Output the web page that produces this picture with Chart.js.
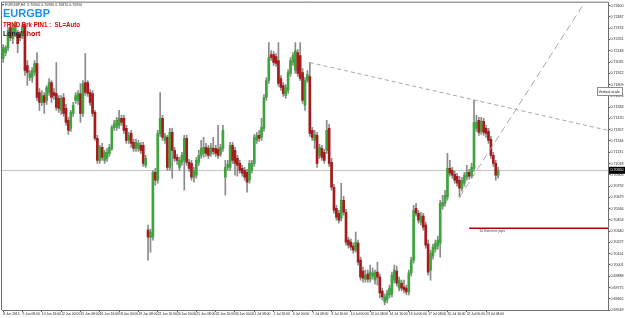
<!DOCTYPE html>
<html>
<head>
<meta charset="utf-8">
<script src="https://cdn.jsdelivr.net/npm/chart.js@4.4.0/dist/chart.umd.min.js"></script>
<style>
  html, body { margin: 0; padding: 0; background: #fff; }
  #chart { display: block; }
</style>
</head>
<body>
<canvas id="chart" width="625" height="318"></canvas>
<script>
const symbol = 'EURGBP'
const period = 'H4'
const strategyText = 'TRND Brk PIN1 :  SL=Auto'

// H4 candles
const openPrices = [
  0.7207, 0.7213, 0.7218, 0.7238, 0.7227, 0.7232, 0.7232, 0.7231, 0.7230, 0.7240,
  0.7200, 0.7188, 0.7188, 0.7193, 0.7202, 0.7173, 0.7163, 0.7170, 0.7165, 0.7173,
  0.7183, 0.7173, 0.7172, 0.7167, 0.7155, 0.7168, 0.7157, 0.7145, 0.7137, 0.7152,
  0.7165, 0.7165, 0.7172, 0.7152, 0.7183, 0.7183, 0.7173, 0.7172, 0.7153, 0.7127,
  0.7105, 0.7118, 0.7105, 0.7107, 0.7112, 0.7117, 0.7138, 0.7138, 0.7140, 0.7147,
  0.7147, 0.7137, 0.7125, 0.7132, 0.7123, 0.7117, 0.7117, 0.7120, 0.7120, 0.7100,
  0.7035, 0.7028, 0.7028, 0.7093, 0.7085, 0.7132, 0.7147, 0.7125, 0.7128, 0.7098,
  0.7133, 0.7115, 0.7108, 0.7098, 0.7103, 0.7105, 0.7127, 0.7103, 0.7102, 0.7088,
  0.7090, 0.7103, 0.7110, 0.7112, 0.7118, 0.7117, 0.7112, 0.7117, 0.7117, 0.7116,
  0.7111, 0.7117, 0.7088, 0.7098, 0.7098, 0.7120, 0.7115, 0.7107, 0.7102, 0.7097,
  0.7095, 0.7093, 0.7085, 0.7095, 0.7102, 0.7125, 0.7130, 0.7128, 0.7137, 0.7168,
  0.7185, 0.7211, 0.7211, 0.7209, 0.7205, 0.7187, 0.7180, 0.7170, 0.7175, 0.7192,
  0.7203, 0.7195, 0.7213, 0.7210, 0.7193, 0.7160, 0.7185, 0.7189, 0.7135, 0.7125,
  0.7130, 0.7110, 0.7117, 0.7113, 0.7115, 0.7137, 0.7103, 0.7078, 0.7057, 0.7052,
  0.7047, 0.7065, 0.7053, 0.7025, 0.7023, 0.7019, 0.7015, 0.7022, 0.7005, 0.6994,
  0.6986, 0.6991, 0.6986, 0.6989, 0.6985, 0.6993, 0.6988, 0.6974, 0.6963, 0.6965,
  0.6970, 0.6971, 0.6985, 0.6994, 0.6977, 0.6982, 0.6978, 0.6977, 0.6973, 0.6992,
  0.7005, 0.7057, 0.7052, 0.7043, 0.7049, 0.7040, 0.7021, 0.6995, 0.7009, 0.7016,
  0.7019, 0.7022, 0.7059, 0.7062, 0.7068, 0.7097, 0.7095, 0.7091, 0.7089, 0.7085,
  0.7077, 0.7082, 0.7088, 0.7093, 0.7089, 0.7097, 0.7137, 0.7145, 0.7134, 0.7144,
  0.7137, 0.7134, 0.7126, 0.7110, 0.7102, 0.7090
]
const highPrices = [
  0.7221, 0.7220, 0.7238, 0.7243, 0.7241, 0.7244, 0.7235, 0.7234, 0.7243, 0.7242,
  0.7205, 0.7195, 0.7198, 0.7205, 0.7213, 0.7177, 0.7175, 0.7173, 0.7180, 0.7187,
  0.7185, 0.7177, 0.7203, 0.7170, 0.7170, 0.7172, 0.7161, 0.7148, 0.7155, 0.7163,
  0.7173, 0.7175, 0.7182, 0.7185, 0.7212, 0.7185, 0.7176, 0.7175, 0.7155, 0.7130,
  0.7120, 0.7122, 0.7115, 0.7117, 0.7121, 0.7140, 0.7145, 0.7148, 0.7155, 0.7150,
  0.7150, 0.7140, 0.7133, 0.7135, 0.7126, 0.7126, 0.7125, 0.7123, 0.7123, 0.7110,
  0.7040, 0.7036, 0.7095, 0.7097, 0.7135, 0.7173, 0.7150, 0.7132, 0.7130, 0.7137,
  0.7137, 0.7118, 0.7111, 0.7108, 0.7113, 0.7130, 0.7130, 0.7106, 0.7105, 0.7098,
  0.7108, 0.7115, 0.7125, 0.7128, 0.7122, 0.7120, 0.7122, 0.7128, 0.7120, 0.7140,
  0.7121, 0.7140, 0.7105, 0.7105, 0.7123, 0.7123, 0.7118, 0.7110, 0.7105, 0.7100,
  0.7098, 0.7096, 0.7105, 0.7105, 0.7131, 0.7133, 0.7135, 0.7147, 0.7171, 0.7188,
  0.7223, 0.7215, 0.7214, 0.7212, 0.7223, 0.7190, 0.7183, 0.7181, 0.7196, 0.7208,
  0.7213, 0.7223, 0.7216, 0.7223, 0.7197, 0.7188, 0.7195, 0.7203, 0.7138, 0.7135,
  0.7133, 0.7121, 0.7120, 0.7116, 0.7145, 0.7141, 0.7107, 0.7081, 0.7060, 0.7055,
  0.7082, 0.7069, 0.7056, 0.7028, 0.7026, 0.7022, 0.7033, 0.7025, 0.7008, 0.6998,
  0.6995, 0.6995, 0.7000, 0.6997, 0.6995, 0.7003, 0.6991, 0.6977, 0.6971, 0.6975,
  0.6980, 0.6993, 0.7000, 0.6999, 0.6988, 0.6985, 0.6985, 0.6980, 0.6995, 0.7008,
  0.7060, 0.7062, 0.7055, 0.7053, 0.7052, 0.7043, 0.7025, 0.7015, 0.7021, 0.7025,
  0.7029, 0.7065, 0.7070, 0.7075, 0.7112, 0.7105, 0.7098, 0.7094, 0.7092, 0.7089,
  0.7088, 0.7093, 0.7100, 0.7096, 0.7102, 0.7165, 0.7150, 0.7148, 0.7148, 0.7147,
  0.7140, 0.7137, 0.7129, 0.7113, 0.7105, 0.7098
]
const lowPrices = [
  0.7203, 0.7210, 0.7215, 0.7225, 0.7222, 0.7229, 0.7213, 0.7225, 0.7227, 0.7190,
  0.7180, 0.7185, 0.7183, 0.7190, 0.7165, 0.7155, 0.7160, 0.7152, 0.7161, 0.7170,
  0.7163, 0.7166, 0.7155, 0.7153, 0.7151, 0.7149, 0.7140, 0.7131, 0.7134, 0.7149,
  0.7162, 0.7161, 0.7143, 0.7149, 0.7170, 0.7169, 0.7160, 0.7149, 0.7125, 0.7102,
  0.7102, 0.7105, 0.7102, 0.7104, 0.7109, 0.7115, 0.7135, 0.7135, 0.7137, 0.7140,
  0.7132, 0.7122, 0.7122, 0.7118, 0.7114, 0.7114, 0.7114, 0.7112, 0.7099, 0.7098,
  0.7005, 0.7013, 0.7025, 0.7080, 0.7082, 0.7129, 0.7125, 0.7122, 0.7095, 0.7095,
  0.7087, 0.7104, 0.7101, 0.7095, 0.7100, 0.7075, 0.7100, 0.7094, 0.7085, 0.7083,
  0.7087, 0.7100, 0.7107, 0.7108, 0.7109, 0.7107, 0.7109, 0.7111, 0.7109, 0.7107,
  0.7109, 0.7114, 0.7070, 0.7095, 0.7095, 0.7102, 0.7090, 0.7089, 0.7092, 0.7089,
  0.7085, 0.7073, 0.7082, 0.7092, 0.7099, 0.7122, 0.7124, 0.7125, 0.7134, 0.7165,
  0.7182, 0.7205, 0.7200, 0.7199, 0.7179, 0.7175, 0.7169, 0.7167, 0.7172, 0.7189,
  0.7200, 0.7192, 0.7189, 0.7185, 0.7162, 0.7155, 0.7183, 0.7129, 0.7125, 0.7117,
  0.7098, 0.7107, 0.7105, 0.7102, 0.7112, 0.7099, 0.7075, 0.7052, 0.7045, 0.7042,
  0.7044, 0.7050, 0.7020, 0.7017, 0.7015, 0.7012, 0.7013, 0.7000, 0.6985, 0.6983,
  0.6983, 0.6983, 0.6983, 0.6986, 0.6981, 0.6980, 0.6967, 0.6965, 0.6960, 0.6962,
  0.6967, 0.6968, 0.6982, 0.6979, 0.6974, 0.6974, 0.6972, 0.6970, 0.6970, 0.6989,
  0.7002, 0.7049, 0.7042, 0.7040, 0.7035, 0.7017, 0.6990, 0.6985, 0.7006, 0.7013,
  0.7016, 0.7008, 0.7056, 0.7059, 0.7065, 0.7089, 0.7087, 0.7082, 0.7079, 0.7068,
  0.7074, 0.7079, 0.7085, 0.7086, 0.7087, 0.7094, 0.7134, 0.7130, 0.7131, 0.7130,
  0.7128, 0.7122, 0.7107, 0.7099, 0.7085, 0.7087
]
const closePrices = [
  0.7218, 0.7218, 0.7235, 0.7228, 0.7238, 0.7240, 0.7222, 0.7228, 0.7240, 0.7195,
  0.7193, 0.7192, 0.7195, 0.7202, 0.7168, 0.7163, 0.7170, 0.7163, 0.7178, 0.7183,
  0.7168, 0.7170, 0.7158, 0.7157, 0.7167, 0.7152, 0.7143, 0.7135, 0.7153, 0.7160,
  0.7170, 0.7172, 0.7152, 0.7182, 0.7173, 0.7172, 0.7163, 0.7152, 0.7127, 0.7105,
  0.7118, 0.7108, 0.7113, 0.7113, 0.7118, 0.7138, 0.7142, 0.7145, 0.7147, 0.7143,
  0.7135, 0.7125, 0.7130, 0.7122, 0.7117, 0.7123, 0.7122, 0.7115, 0.7102, 0.7107,
  0.7028, 0.7033, 0.7093, 0.7085, 0.7132, 0.7147, 0.7128, 0.7129, 0.7098, 0.7133,
  0.7115, 0.7107, 0.7105, 0.7105, 0.7110, 0.7127, 0.7103, 0.7097, 0.7088, 0.7095,
  0.7105, 0.7110, 0.7117, 0.7118, 0.7112, 0.7110, 0.7118, 0.7114, 0.7112, 0.7110,
  0.7118, 0.7135, 0.7098, 0.7101, 0.7120, 0.7105, 0.7102, 0.7100, 0.7095, 0.7092,
  0.7088, 0.7083, 0.7102, 0.7102, 0.7128, 0.7130, 0.7127, 0.7138, 0.7168, 0.7185,
  0.7208, 0.7208, 0.7203, 0.7202, 0.7182, 0.7178, 0.7172, 0.7178, 0.7193, 0.7205,
  0.7210, 0.7215, 0.7192, 0.7187, 0.7165, 0.7185, 0.7191, 0.7132, 0.7128, 0.7131,
  0.7102, 0.7118, 0.7108, 0.7105, 0.7135, 0.7102, 0.7078, 0.7055, 0.7048, 0.7045,
  0.7065, 0.7053, 0.7023, 0.7020, 0.7018, 0.7015, 0.7023, 0.7003, 0.6988, 0.6987,
  0.6990, 0.6986, 0.6993, 0.6992, 0.6993, 0.6988, 0.6972, 0.6968, 0.6968, 0.6972,
  0.6977, 0.6990, 0.6995, 0.6982, 0.6985, 0.6977, 0.6975, 0.6973, 0.6992, 0.7005,
  0.7055, 0.7052, 0.7045, 0.7049, 0.7038, 0.7020, 0.6993, 0.7012, 0.7018, 0.7022,
  0.7025, 0.7062, 0.7063, 0.7070, 0.7097, 0.7092, 0.7090, 0.7085, 0.7082, 0.7077,
  0.7085, 0.7090, 0.7093, 0.7089, 0.7098, 0.7143, 0.7143, 0.7133, 0.7144, 0.7133,
  0.7132, 0.7125, 0.7110, 0.7102, 0.7090, 0.7095
]

// one date label every 8 bars
const dateLabels = [
  '8 Jun 2015', '9 Jun 08:00', '10 Jun 16:00', '12 Jun 00:00', '15 Jun 08:00', '16 Jun 16:00',
  '18 Jun 00:00', '19 Jun 08:00', '22 Jun 16:00', '24 Jun 00:00', '25 Jun 08:00', '26 Jun 16:00',
  '30 Jun 00:00', '1 Jul 08:00', '2 Jul 16:00', '6 Jul 00:00', '7 Jul 08:00', '8 Jul 16:00',
  '10 Jul 00:00', '13 Jul 08:00', '14 Jul 16:00', '16 Jul 00:00', '17 Jul 08:00', '20 Jul 16:00',
  '22 Jul 00:00', '23 Jul 08:00'
]
const labelEvery = 8
const totalSlots = 251

const priceTicks = [
  0.72600, 0.72487, 0.72374, 0.72261, 0.72148, 0.72035, 0.71922, 0.71809, 0.71696, 0.71583,
  0.71470, 0.71357, 0.71244, 0.71131, 0.71018, 0.70905, 0.70792, 0.70679, 0.70566, 0.70453,
  0.70340, 0.70227, 0.70114, 0.70001, 0.69888, 0.69775, 0.69662, 0.69549
]
const priceMin = 0.6955
const priceMax = 0.7263

// drawn objects: [bar index, price]
const trendLineA = [[127, 0.7203], [250.5, 0.7135]]
const trendLineB = [[189, 0.7068], [240.8, 0.7263]]
const extremeLevel = { from: 193, price: 0.7037, text: '10 Extreme pips' }

const upColor = '#3ea53e'
const downColor = '#a51a1a'
const wickColor = '#8a8a8a'
const xFont = { family: 'Liberation Sans', size: 3.3 }
const yFont = { family: 'Liberation Sans', size: 3.6 }

const categories = Array.from({ length: totalSlots }, (_, i) =>
  i % labelEvery === 0 && dateLabels[i / labelEvery] ? dateLabels[i / labelEvery] : '')
const lastClose = closePrices[closePrices.length - 1]
const lastIdx = closePrices.length - 1

const overlay = {
  id: 'overlay',
  beforeDatasetsDraw(chart) {
    const ctx = chart.ctx
    const a = chart.chartArea
    const y = Math.round(chart.scales.y.getPixelForValue(lastClose)) + 0.5
    ctx.save()
    ctx.strokeStyle = '#c4c4c4'
    ctx.lineWidth = 1
    ctx.beginPath()
    ctx.moveTo(a.left, y)
    ctx.lineTo(a.right, y)
    ctx.stroke()
    ctx.restore()
  },
  afterDraw(chart) {
    const ctx = chart.ctx
    const a = chart.chartArea
    const xs = chart.scales.x
    const ys = chart.scales.y
    const pt = (p) => [xs.getPixelForValue(p[0]), ys.getPixelForValue(p[1])]

    ctx.save()
    ctx.beginPath()
    ctx.rect(a.left, a.top, a.right - a.left, a.bottom - a.top)
    ctx.clip()

    // trend lines
    ctx.strokeStyle = '#a6a6a6'
    ctx.lineWidth = 1
    ctx.setLineDash([4, 3])
    let p1 = pt(trendLineA[0]), p2 = pt(trendLineA[1])
    ctx.beginPath(); ctx.moveTo(p1[0], p1[1]); ctx.lineTo(p2[0], p2[1]); ctx.stroke()
    ctx.setLineDash([7, 4])
    p1 = pt(trendLineB[0]); p2 = pt(trendLineB[1])
    ctx.beginPath(); ctx.moveTo(p1[0], p1[1]); ctx.lineTo(p2[0], p2[1]); ctx.stroke()
    ctx.setLineDash([])

    // extreme level
    const ly = ys.getPixelForValue(extremeLevel.price)
    const lx = xs.getPixelForValue(extremeLevel.from)
    ctx.strokeStyle = '#b00000'
    ctx.lineWidth = 1.5
    ctx.beginPath(); ctx.moveTo(lx, ly); ctx.lineTo(a.right, ly); ctx.stroke()
    ctx.fillStyle = '#444'
    ctx.font = '3.6px "Liberation Sans"'
    ctx.textBaseline = 'top'
    ctx.fillText(extremeLevel.text, lx + 10, ly + 1.5)
    ctx.restore()

    // frame
    ctx.save()
    ctx.strokeStyle = '#6e6e6e'
    ctx.lineWidth = 1
    ctx.beginPath()
    ctx.moveTo(a.left - 0.5, a.bottom)
    ctx.lineTo(a.left - 0.5, a.top - 0.5)
    ctx.lineTo(a.right, a.top - 0.5)
    ctx.stroke()

    // header texts
    ctx.textBaseline = 'alphabetic'
    ctx.fillStyle = '#333'
    ctx.font = '3.6px "Liberation Sans"'
    const o = openPrices[lastIdx], h = highPrices[lastIdx], l = lowPrices[lastIdx]
    ctx.fillText('\u25BE ' + symbol + ',' + period + '  ' + [o, h, l, lastClose].map(v => v.toFixed(5)).join(' '), 2, 6)
    ctx.fillStyle = '#1e8ff0'
    ctx.font = 'bold 11px "Liberation Sans"'
    ctx.fillText(symbol, 3, 17)
    ctx.fillStyle = '#e00000'
    ctx.font = 'bold 7px "Liberation Sans"'
    ctx.fillText(strategyText, 3, 27, 77)
    ctx.fillStyle = '#222'
    ctx.fillText('Long/', 3, 35.5)
    const w = ctx.measureText('Long/').width
    ctx.fillStyle = '#c00000'
    ctx.fillText('Short', 3 + w, 35.5)

    // current price tag
    const cy = ys.getPixelForValue(lastClose)
    ctx.fillStyle = '#000'
    ctx.fillRect(a.right + 1, cy - 3.5, 16, 7)
    ctx.fillStyle = '#fff'
    ctx.font = '3.6px "Liberation Sans"'
    ctx.textBaseline = 'middle'
    ctx.fillText(lastClose.toFixed(5), a.right + 2.5, cy)

    // "Vertical scale" tag
    ctx.fillStyle = '#fff'
    ctx.fillRect(a.right - 11, 87, 26, 9)
    ctx.strokeStyle = '#8a8a8a'
    ctx.strokeRect(a.right - 10.5, 87.5, 25, 8)
    ctx.fillStyle = '#111'
    ctx.fillText('Vertical scale', a.right - 9.5, 91.7, 23)
    ctx.restore()
  }
}

new Chart(document.getElementById('chart'), {
  type: 'bar',
  data: {
    labels: categories,
    datasets: [
      {
        label: 'body',
        data: openPrices.map((v, i) => [v, closePrices[i]]),
        backgroundColor: openPrices.map((v, i) => closePrices[i] >= v ? upColor : downColor),
        barThickness: 2,
        minBarLength: 1,
        grouped: false,
        order: 0
      },
      {
        label: 'wick',
        data: lowPrices.map((v, i) => [v, highPrices[i]]),
        backgroundColor: wickColor,
        barThickness: 1,
        grouped: false,
        order: 1
      }
    ]
  },
  options: {
    responsive: false,
    animation: false,
    layout: { padding: { left: 2, top: 2, right: 0, bottom: 0 } },
    plugins: { legend: { display: false }, tooltip: { enabled: false } },
    scales: {
      x: {
        offset: true,
        grid: {
          drawOnChartArea: false,
          offset: false,
          tickLength: 2,
          color: (c) => categories[c.index] ? '#555' : 'rgba(0,0,0,0)'
        },
        border: { display: true, color: '#6e6e6e' },
        ticks: {
          autoSkip: false, maxRotation: 0, minRotation: 0, align: 'start',
          padding: 0, font: xFont, color: '#222'
        },
        afterFit: (s) => { s.height = 8 }
      },
      y: {
        position: 'right',
        min: priceMin,
        max: priceMax,
        afterBuildTicks: (s) => { s.ticks = priceTicks.map(v => ({ value: v })) },
        grid: { drawOnChartArea: false, tickLength: 2, color: '#555' },
        border: { display: true, color: '#6e6e6e' },
        ticks: {
          autoSkip: false, padding: 0.5, font: yFont, color: '#222',
          callback: (v) => Number(v).toFixed(5)
        },
        afterFit: (s) => { s.width = 17 }
      }
    }
  },
  plugins: [overlay]
})
</script>
</body>
</html>
